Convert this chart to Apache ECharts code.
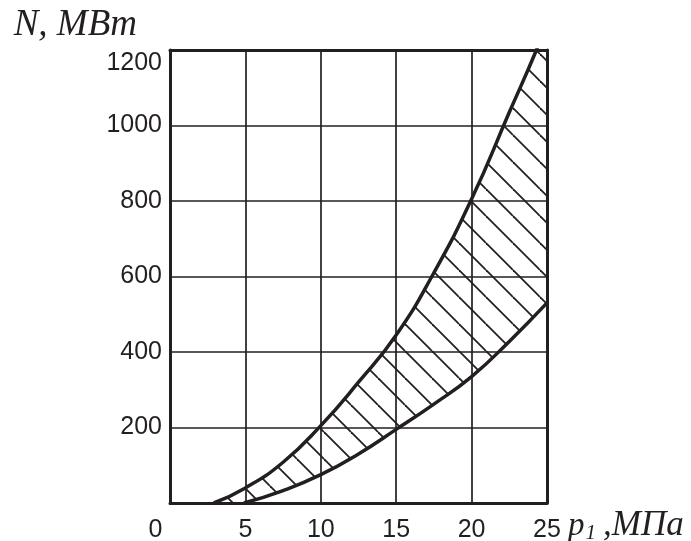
<!DOCTYPE html>
<html>
<head>
<meta charset="utf-8">
<script src="https://cdn.jsdelivr.net/npm/echarts@6/dist/echarts.min.js"></script>
<style>
  html, body { margin: 0; padding: 0; background: #ffffff; }
  #chart { width: 691px; height: 541px; }
</style>
</head>
<body>
<div id="chart"></div>
<script>
// ---- data ----
const upperP = [2.9, 5, 7.5, 10, 12.5, 15, 17.5, 20, 22.5, 24.3, 25];
const upperN = [0, 40, 108, 205, 320, 445, 610, 805, 1035, 1200, 1275];
const lowerP = [4.9, 7.5, 10, 12.5, 15, 17.5, 20, 22.5, 25];
const lowerN = [0, 33, 75, 130, 195, 262, 335, 428, 530];
const xTickLabels = ['0', '5', '10', '15', '20', '25'];
const yTickLabels = ['', '200', '400', '600', '800', '1000', '1200'];

const INK = '#231f20';

function hatchCanvas() {
  const s = 27;
  const c = document.createElement('canvas');
  c.width = s; c.height = s;
  const ctx = c.getContext('2d');
  ctx.fillStyle = '#ffffff';
  ctx.fillRect(0, 0, s, s);
  ctx.strokeStyle = INK;
  ctx.lineWidth = 1.8;
  [-1, 0, 1].forEach(function (k) {
    ctx.beginPath();
    ctx.moveTo(0, k * s);
    ctx.lineTo(s, s + k * s);
    ctx.stroke();
  });
  return c;
}

const upperData = upperP.map((p, i) => [p, upperN[i]]);
const lowerData = lowerP.map((p, i) => [p, lowerN[i]]);

const chart = echarts.init(document.getElementById('chart'), null, { renderer: 'canvas' });

const option = {
  animation: false,
  backgroundColor: '#ffffff',
  grid: { left: 170, right: 144, top: 50, bottom: 38, containLabel: false, outerBoundsMode: 'none' },
  xAxis: [{
    type: 'value', min: 0, max: 25, interval: 5, z: 5,
    axisLine: { show: true, onZero: false, lineStyle: { color: INK, width: 3 } },
    axisTick: { show: false },
    splitLine: { show: true, lineStyle: { color: INK, width: 1.7 } },
    axisLabel: {
      margin: 15, color: INK, fontSize: 25, fontFamily: 'Liberation Sans',
      formatter: function (v) {
        const lbl = xTickLabels[Math.round(v / 5)];
        return v === 0 ? '{z|' + lbl + '}' : lbl;
      },
      rich: { z: { padding: [0, 29, 0, 0], fontSize: 25, fontFamily: 'Liberation Sans', color: INK } }
    },
    name: '{p|p}{s|1}{c|,МПа}',
    nameLocation: 'end', nameGap: 21,
    nameTextStyle: {
      verticalAlign: 'middle', align: 'left', padding: [46, 0, 0, 0],
      rich: {
        p: { fontSize: 33, fontStyle: 'italic', fontFamily: 'Liberation Serif', color: INK },
        s: { fontSize: 21, fontStyle: 'italic', fontFamily: 'Liberation Serif', color: INK, verticalAlign: 'bottom', padding: [0, 0, 0, 1] },
        c: { fontSize: 35, fontStyle: 'italic', fontFamily: 'Liberation Serif', color: INK, padding: [0, 0, 0, 7] }
      }
    }
  }, {
    type: 'value', position: 'top', min: 0, max: 25, interval: 5, z: 5,
    axisLine: { show: true, onZero: false, lineStyle: { color: INK, width: 3 } },
    axisTick: { show: false }, axisLabel: { show: false }, splitLine: { show: false }
  }],
  yAxis: [{
    type: 'value', min: 0, max: 1200, interval: 200, z: 5,
    axisLine: { show: true, onZero: false, lineStyle: { color: INK, width: 3 } },
    axisTick: { show: false },
    splitLine: { show: true, lineStyle: { color: INK, width: 1.7 } },
    axisLabel: {
      margin: 8, color: INK, fontSize: 25, fontFamily: 'Liberation Sans',
      formatter: function (v) {
        const lbl = yTickLabels[Math.round(v / 200)];
        return v === 1200 ? '{t|' + lbl + '}' : lbl;
      },
      rich: { t: { padding: [26, 0, 0, 0], fontSize: 25, fontFamily: 'Liberation Sans', color: INK } }
    },
    name: 'N, MBm',
    nameLocation: 'end', nameGap: 6,
    nameTextStyle: {
      align: 'right', verticalAlign: 'bottom', padding: [0, 33, 0, 0],
      fontSize: 37, fontStyle: 'italic', fontFamily: 'Liberation Serif', color: INK
    }
  }, {
    type: 'value', position: 'right', min: 0, max: 1200, interval: 200, z: 5,
    axisLine: { show: true, onZero: false, lineStyle: { color: INK, width: 3 } },
    axisTick: { show: false }, axisLabel: { show: false }, splitLine: { show: false }
  }],
  series: [{
    type: 'line', name: 'upper', data: upperData, smooth: 0.5, symbol: 'none', z: 2,
    lineStyle: { color: INK, width: 3.5 },
    areaStyle: { color: { image: hatchCanvas(), repeat: 'repeat' }, opacity: 1 }
  }, {
    type: 'line', name: 'lower', data: lowerData, smooth: 0.5, symbol: 'none', z: 3,
    lineStyle: { color: INK, width: 3.5 },
    areaStyle: { color: '#ffffff', opacity: 1 }
  }]
};

chart.setOption(option);
</script>
</body>
</html>
